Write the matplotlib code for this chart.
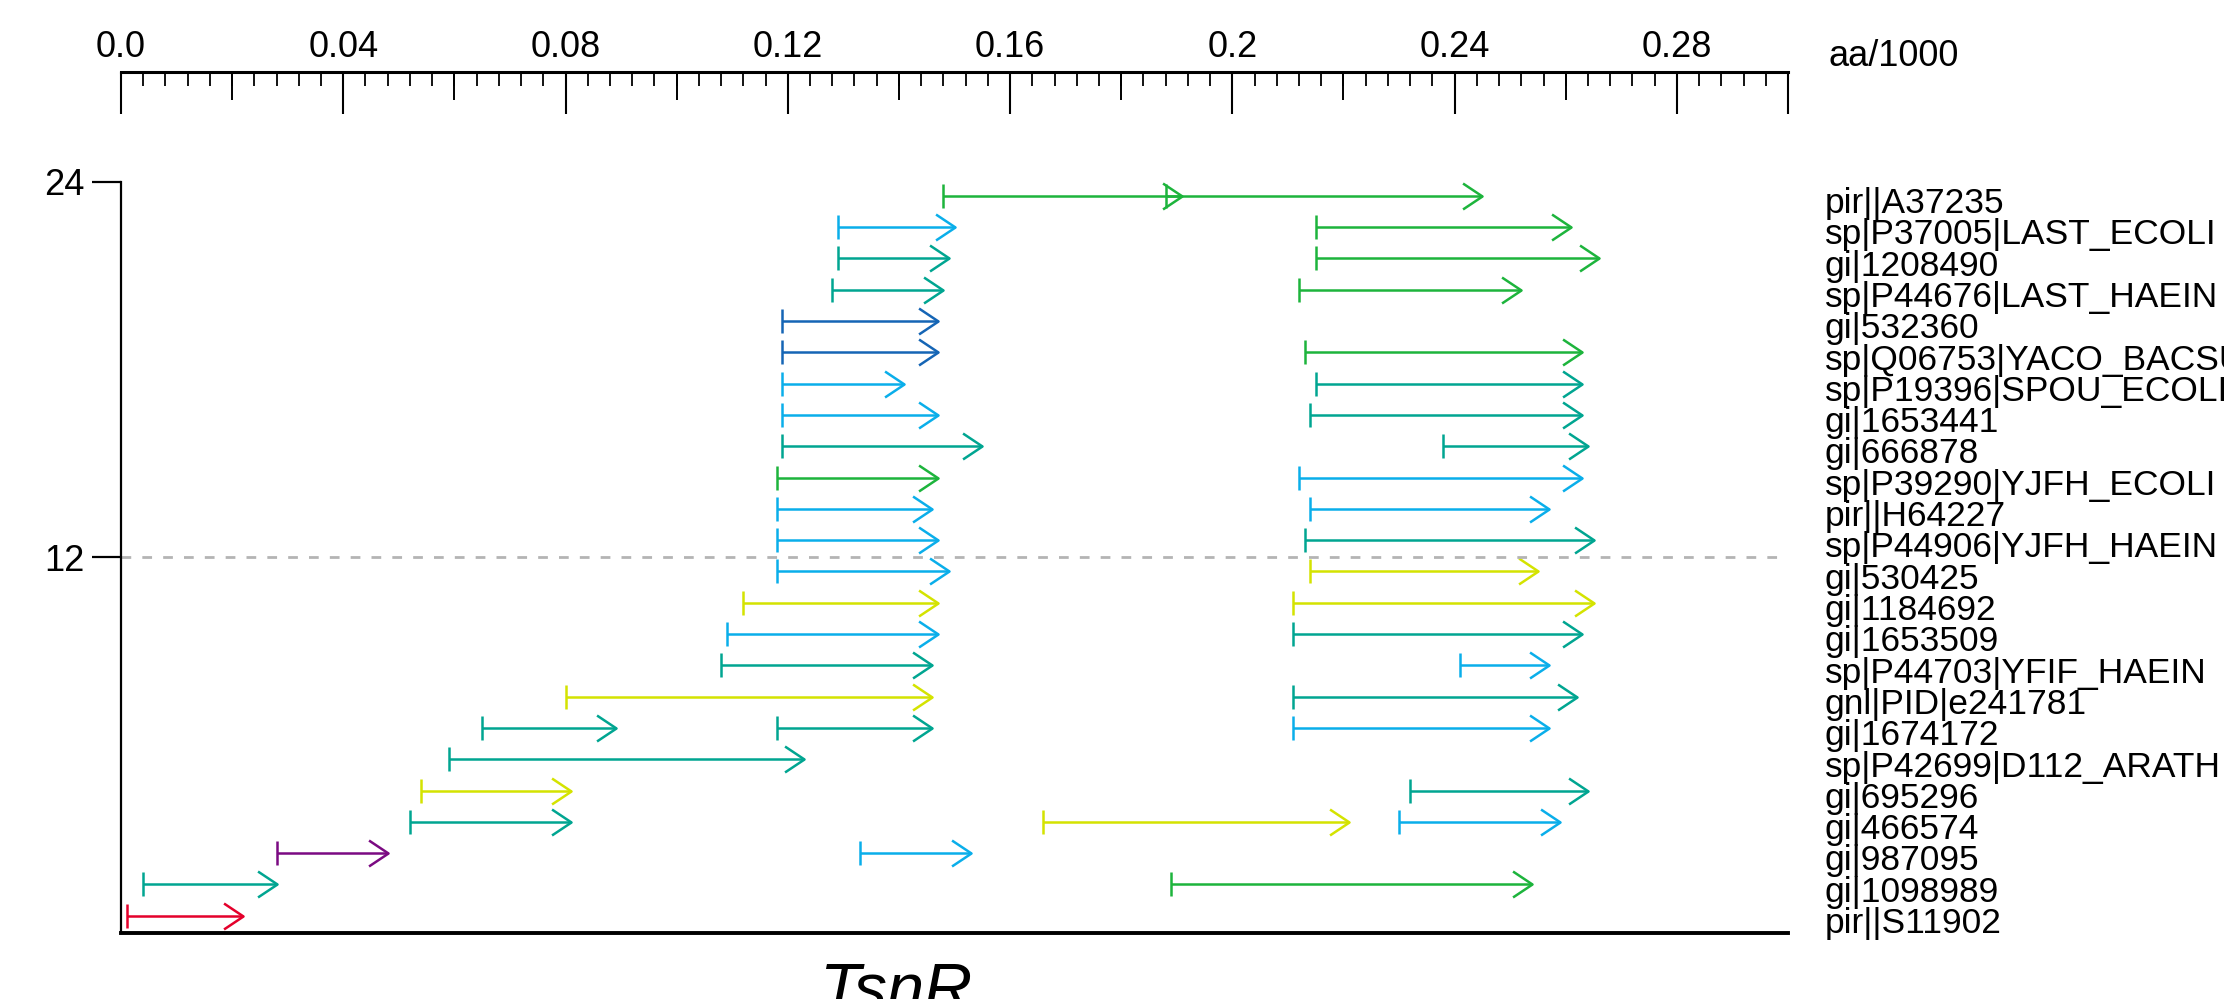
import matplotlib
matplotlib.use("Agg")
import matplotlib.pyplot as plt
import numpy as np
from matplotlib.path import Path
from matplotlib.ticker import MultipleLocator, FixedLocator, FixedFormatter

plt.rcParams['font.family'] = ['Liberation Sans', 'DejaVu Sans']
plt.rcParams['lines.scale_dashes'] = False

# ---------------- data ----------------
labels = [
    "pir||A37235", "sp|P37005|LAST_ECOLI", "gi|1208490", "sp|P44676|LAST_HAEIN",
    "gi|532360", "sp|Q06753|YACO_BACSU", "sp|P19396|SPOU_ECOLI", "gi|1653441",
    "gi|666878", "sp|P39290|YJFH_ECOLI", "pir||H64227", "sp|P44906|YJFH_HAEIN",
    "gi|530425", "gi|1184692", "gi|1653509", "sp|P44703|YFIF_HAEIN",
    "gnl|PID|e241781", "gi|1674172", "sp|P42699|D112_ARATH", "gi|695296",
    "gi|466574", "gi|987095", "gi|1098989", "pir||S11902",
]

colors = {
    "R": "#e4002b", "P": "#7b0a82", "DB": "#1565b5", "Y": "#d4e300",
    "T": "#00a591", "B": "#0aaeea", "G": "#1db43c",
}

# segments: row index (0 = top label), start, end (aa/1000), colour key
seg_row = [0, 0, 1, 1, 2, 2, 3, 3, 4, 5, 5, 6, 6, 7, 7, 8, 8, 9, 9, 10, 10,
           11, 11, 12, 12, 13, 13, 14, 14, 15, 15, 16, 16, 17, 17, 17, 18,
           19, 19, 20, 20, 20, 21, 21, 22, 22, 23]
seg_start = [0.148, 0.188, 0.129, 0.215, 0.129, 0.215, 0.128, 0.212, 0.119,
             0.119, 0.213, 0.119, 0.215, 0.119, 0.214, 0.119, 0.238, 0.118,
             0.212, 0.118, 0.214, 0.118, 0.213, 0.118, 0.214, 0.112, 0.211,
             0.109, 0.211, 0.108, 0.241, 0.080, 0.211, 0.065, 0.118, 0.211,
             0.059, 0.054, 0.232, 0.052, 0.166, 0.230, 0.028, 0.133, 0.004,
             0.189, 0.001]
seg_end = [0.191, 0.245, 0.150, 0.261, 0.149, 0.266, 0.148, 0.252, 0.147,
           0.147, 0.263, 0.141, 0.263, 0.147, 0.263, 0.155, 0.264, 0.147,
           0.263, 0.146, 0.257, 0.147, 0.265, 0.149, 0.255, 0.147, 0.265,
           0.147, 0.263, 0.146, 0.257, 0.146, 0.262, 0.089, 0.146, 0.257,
           0.123, 0.081, 0.264, 0.081, 0.221, 0.259, 0.048, 0.153, 0.028,
           0.254, 0.022]
seg_color = ["G", "G", "B", "G", "T", "G", "T", "G", "DB", "DB", "G", "B", "T",
             "B", "T", "T", "T", "G", "B", "B", "B", "B", "T", "B", "Y", "Y",
             "Y", "B", "T", "T", "B", "Y", "T", "T", "T", "B", "T", "Y", "T",
             "T", "Y", "B", "P", "B", "T", "G", "R"]

major_ticks = [0.0, 0.04, 0.08, 0.12, 0.16, 0.20, 0.24, 0.28]
major_labels = ["0.0", "0.04", "0.08", "0.12", "0.16", "0.2", "0.24", "0.28"]
y_ticks = [12, 24]

# ---------------- figure ----------------
W, H = 2224, 999
fig = plt.figure(figsize=(W / 100, H / 100), dpi=100)

x0_px, x1_px = 121, 1788
bottom_px, top_px = 933, 181.8
ax = fig.add_axes([x0_px / W, (H - bottom_px) / H, (x1_px - x0_px) / W,
                   (bottom_px - top_px) / H])
ax.set_xlim(0, 0.30)
ax.set_ylim(0, 24)
n = len(labels)
row_offset = 0.55

chevron = Path([(-1.5, 1.0), (0.0, 0.0), (-1.5, -1.0)],
               [Path.MOVETO, Path.LINETO, Path.LINETO])

lw = 1.8
for r, s, e, c in zip(seg_row, seg_start, seg_end, seg_color):
    y = (n - 1 - r) + row_offset
    col = colors[c]
    ax.plot([s, e], [y, y], color=col, lw=lw, solid_capstyle='butt')
    ax.plot([s], [y], marker='|', ms=17, mew=lw, color=col)
    ax.plot([e], [y], marker=chevron, ms=28, mew=lw, mfc='none', mec=col)

# dashed reference line at 12
ax.axhline(12, color='#b4b4b4', lw=2.0, dashes=(7, 8))

# right labels
for i, lab in enumerate(labels):
    y = (n - 1 - i)
    ax.text(0.3066, y, lab, fontsize=25.5, va='baseline', ha='left',
            clip_on=False)

for side in ['top', 'right']:
    ax.spines[side].set_visible(False)
ax.spines['left'].set_linewidth(1.6)
ax.spines['bottom'].set_linewidth(2.8)
ax.set_xticks([])
ax.set_yticks(y_ticks)
ax.set_yticklabels([str(t) for t in y_ticks])
ax.tick_params(axis='y', direction='out', length=21, width=1.6, pad=5,
               labelsize=26)

# ---------------- top scale ----------------
top_line_px = 72
rect_top = [x0_px / W, (H - top_line_px) / H - 0.05, (x1_px - x0_px) / W, 0.05]
axt = fig.add_axes(rect_top)
axt.set_xlim(0, 0.30)
axt.set_ylim(0, 1)
axt.patch.set_alpha(0)
for side in ['bottom', 'left', 'right']:
    axt.spines[side].set_visible(False)
axt.spines['top'].set_linewidth(2.2)
axt.set_yticks([])
axt.xaxis.set_major_locator(FixedLocator(major_ticks + [0.30]))
axt.xaxis.set_major_formatter(FixedFormatter(major_labels + [""]))
axt.xaxis.set_minor_locator(MultipleLocator(0.004))
axt.tick_params(axis='x', which='both', top=True, bottom=False,
                labeltop=True, labelbottom=False, direction='in')
axt.tick_params(axis='x', which='major', length=30, width=1.5, pad=5,
                labelsize=26)
axt.tick_params(axis='x', which='minor', length=10, width=1.3)

axm = fig.add_axes(rect_top)
axm.set_xlim(0, 0.30)
axm.set_frame_on(False)
axm.set_yticks([])
axm.set_xticks(np.arange(0.02, 0.301, 0.04))
axm.tick_params(axis='x', top=True, bottom=False, labeltop=False,
                labelbottom=False, direction='in', length=20, width=1.4)

fig.text(1829 / W, (H - 57) / H, "aa/1000", fontsize=26, va='center',
         ha='left')

# title at bottom (partly cut by the lower edge, as in the reference)
fig.text(896 / W, -10.7 / H, "TsnR", fontsize=48, style='italic',
         ha='center', va='baseline')

fig.savefig("out.png", dpi=100)
